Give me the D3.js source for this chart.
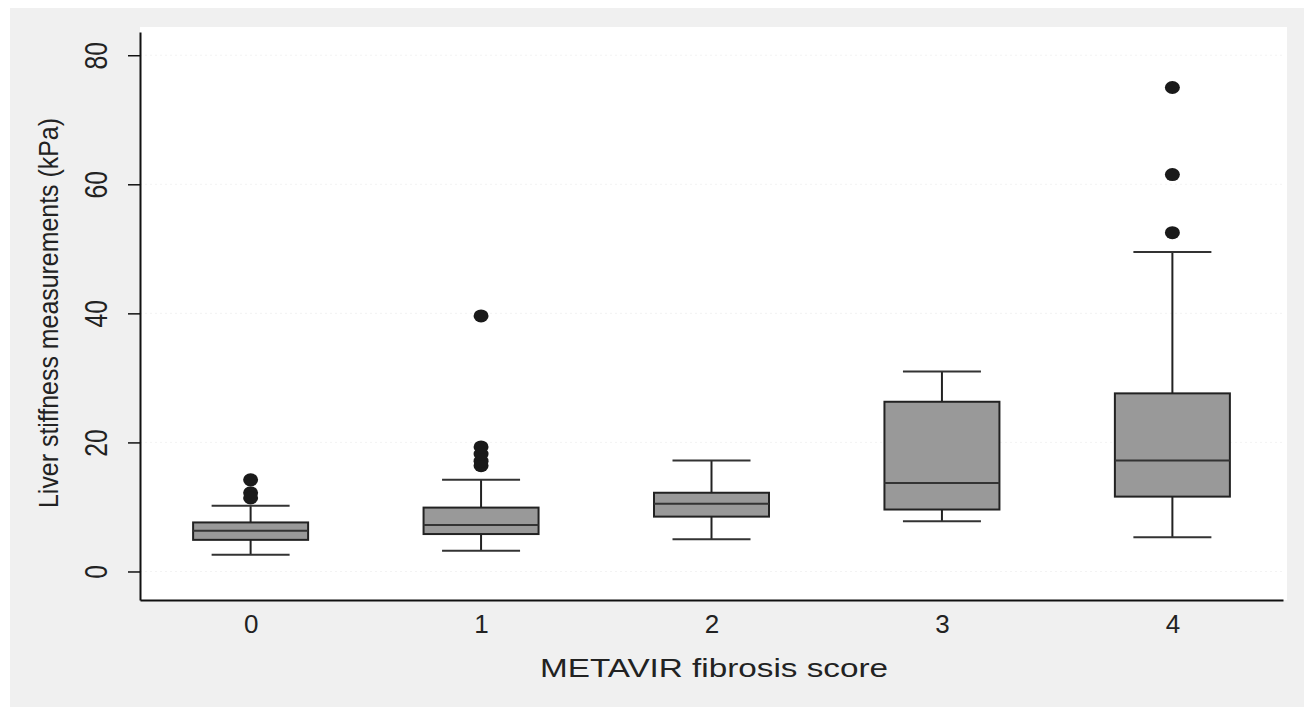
<!DOCTYPE html>
<html>
<head>
	<meta http-equiv="Content-Type" content="text/html;charset=UTF-8">
	<title>Liver stiffness by METAVIR score</title>
	<style>
		body { margin: 0; background: #fff; }
		text { font-family: "Liberation Sans", Arial, sans-serif; fill: #222; }
	</style>
</head>
<body>
	<div class="drawing"></div>

	<script src="https://d3js.org/d3.v7.min.js"></script>
	<script type="text/javascript">
		var w = 1304;
		var h = 715;

		/* data */
		var categories = ["0", "1", "2", "3", "4"];
		var whiskerLow = [2.6, 3.2, 5.0, 7.8, 5.3];
		var q1 = [4.9, 5.8, 8.5, 9.6, 11.6];
		var median = [6.3, 7.2, 10.5, 13.7, 17.2];
		var q3 = [7.6, 9.9, 12.2, 26.3, 27.6];
		var whiskerHigh = [10.2, 14.2, 17.2, 31.0, 49.5];
		var outliers = [
			[14.2, 12.2, 11.4],
			[16.4, 17.1, 18.2, 19.3, 39.6],
			[],
			[],
			[52.5, 61.5, 75.0]
		];
		var yTicks = [0, 20, 40, 60, 80];

		var pLeft = 140, pRight = 1283, pTop = 32, pBottom = 600;

		var SVG = d3.select("div.drawing").append("svg")
					.attr("width", w)
					.attr("height", h);

		/* grey frame and white panel */
		SVG.append("rect").attr("x", 10).attr("y", 8)
			.attr("width", w - 10).attr("height", 699).attr("fill", "#f0f0f0");
		SVG.append("rect").attr("x", pLeft).attr("y", 27)
			.attr("width", 1287 - pLeft).attr("height", pBottom - 27).attr("fill", "#fff");

		var XScale = d3.scalePoint()
					  .domain(categories)
					  .range([pLeft, pRight])
					  .padding(0.48);

		var YScale = d3.scaleLinear()
					  .domain([-4.42, 83.6])
					  .range([pBottom, pTop]);

		/* very faint grid */
		SVG.append("g").selectAll("line")
			.data(yTicks).enter().append("line")
			.attr("x1", pLeft).attr("x2", pRight)
			.attr("y1", function(d){ return YScale(d); })
			.attr("y2", function(d){ return YScale(d); })
			.attr("stroke", "#f3f3f3")
			.attr("stroke-dasharray", "2,3");

		/* y axis */
		var YAxis = d3.axisLeft(YScale).tickValues(yTicks).tickSize(12).tickSizeOuter(0);
		var gy = SVG.append("g")
			.attr("transform", "translate(" + pLeft + ",0)")
			.call(YAxis);
		gy.select(".domain").attr("stroke", "#111").attr("stroke-width", 2);
		gy.selectAll(".tick line").attr("stroke", "#111").attr("stroke-width", 1.5);
		gy.selectAll(".tick text")
			.attr("x", 0).attr("y", 0).attr("dy", null)
			.attr("text-anchor", "middle")
			.attr("font-size", 26)
			.attr("fill", "#222")
			.attr("transform", "translate(-33,0) rotate(-90) scale(0.95,1.2)");

		/* x axis */
		var XAxis = d3.axisBottom(XScale).tickSize(0).tickSizeOuter(0);
		var gx = SVG.append("g")
			.attr("transform", "translate(0," + pBottom + ")")
			.call(XAxis);
		gx.select(".domain").attr("stroke", "#111").attr("stroke-width", 2);
		gx.selectAll(".tick text")
			.attr("y", 33).attr("dy", null)
			.attr("font-size", 26)
			.attr("fill", "#222");

		/* boxes */
		var boxW = 115, capW = 78;
		var idx = d3.range(categories.length);
		var boxes = SVG.append("g").selectAll("g")
			.data(idx).enter().append("g");

		boxes.append("line")
			.attr("x1", function(i){ return XScale(categories[i]); })
			.attr("x2", function(i){ return XScale(categories[i]); })
			.attr("y1", function(i){ return YScale(whiskerLow[i]); })
			.attr("y2", function(i){ return YScale(whiskerHigh[i]); })
			.attr("stroke", "#222").attr("stroke-width", 2);

		boxes.selectAll("line.cap")
			.data(function(i){ return [[i, whiskerLow[i]], [i, whiskerHigh[i]]]; })
			.enter().append("line")
			.attr("class", "cap")
			.attr("x1", function(d){ return XScale(categories[d[0]]) - capW / 2; })
			.attr("x2", function(d){ return XScale(categories[d[0]]) + capW / 2; })
			.attr("y1", function(d){ return YScale(d[1]); })
			.attr("y2", function(d){ return YScale(d[1]); })
			.attr("stroke", "#333").attr("stroke-width", 2);

		boxes.append("rect")
			.attr("x", function(i){ return XScale(categories[i]) - boxW / 2; })
			.attr("y", function(i){ return YScale(q3[i]); })
			.attr("width", boxW)
			.attr("height", function(i){ return YScale(q1[i]) - YScale(q3[i]); })
			.attr("fill", "#999")
			.attr("stroke", "#222").attr("stroke-width", 2);

		boxes.append("line")
			.attr("x1", function(i){ return XScale(categories[i]) - boxW / 2; })
			.attr("x2", function(i){ return XScale(categories[i]) + boxW / 2; })
			.attr("y1", function(i){ return YScale(median[i]); })
			.attr("y2", function(i){ return YScale(median[i]); })
			.attr("stroke", "#333").attr("stroke-width", 2);

		boxes.selectAll("ellipse")
			.data(function(i){ return outliers[i].map(function(v){ return [i, v]; }); })
			.enter().append("ellipse")
			.attr("cx", function(d){ return XScale(categories[d[0]]); })
			.attr("cy", function(d){ return YScale(d[1]); })
			.attr("rx", 7.5).attr("ry", 6.5)
			.attr("fill", "#1a1a1a");

		/* axis titles */
		SVG.append("text")
			.attr("x", 714).attr("y", 677)
			.attr("text-anchor", "middle")
			.attr("font-size", 26)
			.attr("textLength", 348)
			.attr("lengthAdjust", "spacingAndGlyphs")
			.text("METAVIR fibrosis score");

		SVG.append("text")
			.attr("transform", "translate(58,313) rotate(-90)")
			.attr("text-anchor", "middle")
			.attr("font-size", 27)
			.attr("textLength", 390)
			.attr("lengthAdjust", "spacingAndGlyphs")
			.text("Liver stiffness measurements (kPa)");
	</script>
</body>
</html>
